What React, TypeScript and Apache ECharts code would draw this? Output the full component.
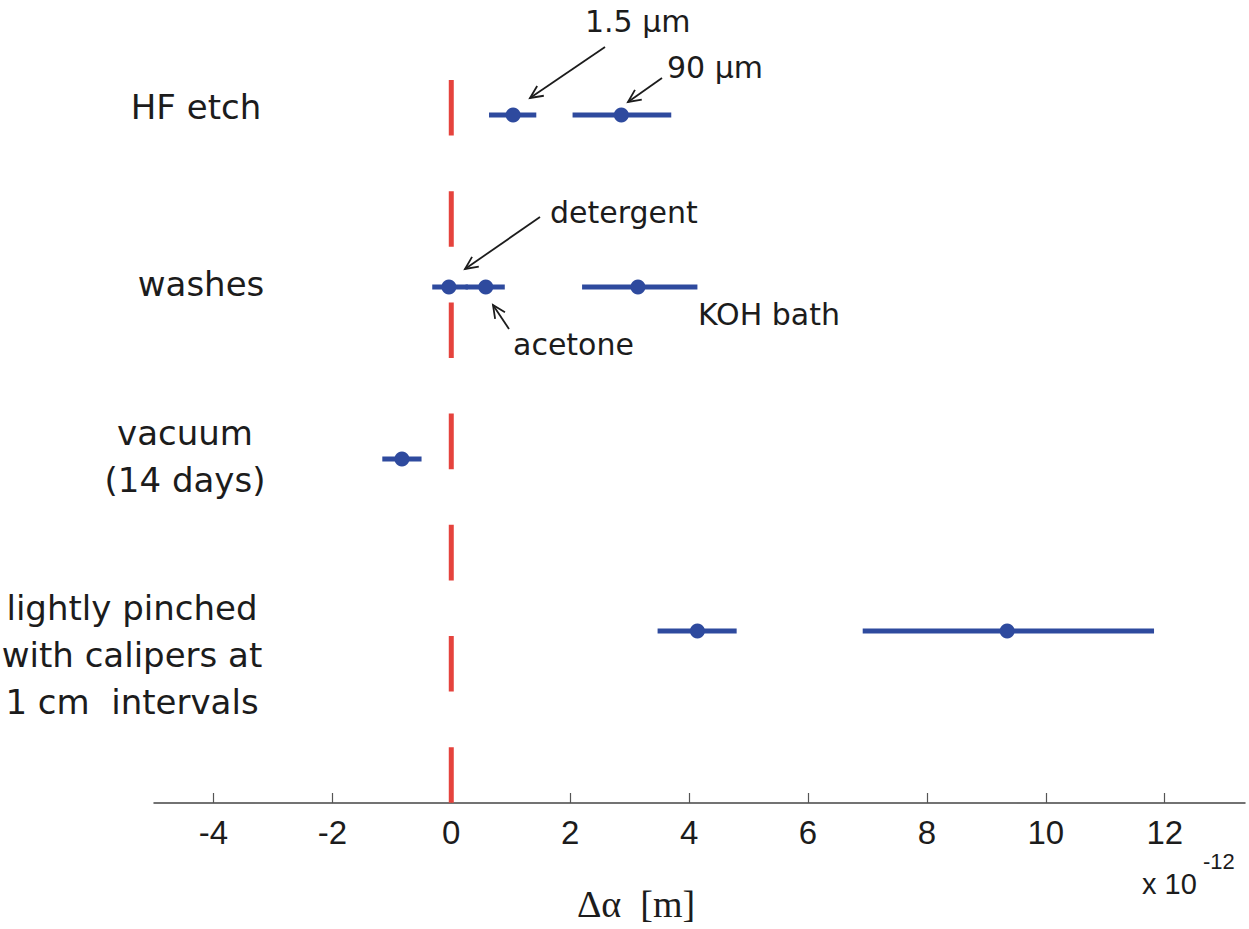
import React, { useEffect, useRef } from "react";
import * as echarts from "echarts";

// ---- data ----
const categories = [
  "HF etch",
  "washes",
  "vacuum\n(14 days)",
  "lightly pinched\nwith calipers at\n1 cm  intervals",
];
const categoryRow = [4, 3, 2, 1];

const pointNames = ["1.5 µm", "90 µm", "detergent", "acetone", "KOH bath", "vacuum", "pinched A", "pinched B"];
const pointRow = [4, 4, 3, 3, 3, 2, 1, 1];
const pointValue = [1.04, 2.86, -0.04, 0.58, 3.14, -0.83, 4.14, 9.35];
const errLow = [0.635, 2.04, -0.32, 0.24, 2.2, -1.16, 3.47, 6.92];
const errHigh = [1.43, 3.7, 0.28, 0.9, 4.14, -0.5, 4.8, 11.82];

const xTicks = [-4, -2, 0, 2, 4, 6, 8, 10, 12];
const zeroLine = [
  [0, 4.2035],
  [0, 0],
];

const BLUE = "#2E4A9E";
const RED = "#E5433D";
const INK = "#1c1c1c";
const SANS = "DejaVu Sans";

// annotation layout (pixel positions of callouts)
const annotations = [
  { text: "1.5 µm", x: 585, y: 21, from: [605, 47], to: [530, 98] },
  { text: "90 µm", x: 667, y: 67, from: [662, 78], to: [628, 102] },
  { text: "detergent", x: 550, y: 212, from: [540, 217], to: [465, 269] },
  { text: "acetone", x: 513, y: 344, from: [509, 329], to: [493, 305] },
  { text: "KOH bath", x: 698, y: 314, from: null, to: null },
];
const categoryLabelPos = [
  { x: 196, y: 107 },
  { x: 201, y: 284 },
  { x: 185, y: 456 },
  { x: 132, y: 655 },
];

function arrow(from: number[], to: number[]) {
  const dx = to[0] - from[0];
  const dy = to[1] - from[1];
  const len = Math.hypot(dx, dy);
  const ux = dx / len;
  const uy = dy / len;
  const L = 14;
  const a = (25 * Math.PI) / 180;
  const rot = (ang: number) => [
    to[0] - L * (ux * Math.cos(ang) - uy * Math.sin(ang)),
    to[1] - L * (ux * Math.sin(ang) + uy * Math.cos(ang)),
  ];
  return [
    {
      type: "line",
      shape: { x1: from[0], y1: from[1], x2: to[0], y2: to[1] },
      style: { stroke: INK, lineWidth: 1.8 },
    },
    {
      type: "polyline",
      shape: { points: [rot(a), to, rot(-a)] },
      style: { stroke: INK, lineWidth: 1.8, fill: null },
    },
  ];
}

export default function App() {
  const ref = useRef<HTMLDivElement>(null);
  useEffect(() => {
    if (!ref.current) return;
    const chart = echarts.init(ref.current, null, { renderer: "svg" });

    const graphics: any[] = [];
    categories.forEach((c, i) => {
      graphics.push({
        type: "text",
        x: categoryLabelPos[i].x,
        y: categoryLabelPos[i].y,
        style: {
          text: c,
          fontSize: 34,
          fontFamily: SANS,
          fill: INK,
          align: "center",
          verticalAlign: "middle",
          lineHeight: 47,
        },
      });
    });
    annotations.forEach((a) => {
      graphics.push({
        type: "text",
        x: a.x,
        y: a.y,
        style: {
          text: a.text,
          fontSize: 30,
          fontFamily: SANS,
          fill: INK,
          align: "left",
          verticalAlign: "middle",
        },
      });
      if (a.from && a.to) graphics.push(...arrow(a.from, a.to));
    });
    graphics.push({
      type: "text",
      x: 636,
      y: 904,
      style: {
        text: "Δα  [m]",
        fontSize: 38,
        fontFamily: "Liberation Serif",
        fill: INK,
        align: "center",
        verticalAlign: "middle",
      },
    });
    graphics.push({
      type: "text",
      x: 1142,
      y: 884,
      style: { text: "x 10", fontSize: 29, fontFamily: "Liberation Sans", fill: INK, align: "left", verticalAlign: "middle" },
    });
    graphics.push({
      type: "text",
      x: 1203,
      y: 861,
      style: { text: "-12", fontSize: 22, fontFamily: "Liberation Sans", fill: INK, align: "left", verticalAlign: "middle" },
    });

    chart.setOption({
      animation: false,
      backgroundColor: "#ffffff",
      grid: { left: 154, right: 4, top: 29, bottom: 126, containLabel: false },
      xAxis: {
        type: "value",
        min: -5,
        max: 13.35,
        splitLine: { show: false },
        axisLine: { show: true, onZero: false, lineStyle: { color: "#444", width: 1.5 } },
        axisTick: { show: true, inside: true, length: 10, customValues: xTicks, lineStyle: { color: "#555", width: 1.2 } },
        axisLabel: {
          customValues: xTicks,
          fontSize: 33,
          fontFamily: "Liberation Sans",
          color: INK,
          margin: 13,
        },
      },
      yAxis: {
        type: "value",
        min: 0,
        max: 4.5,
        show: false,
      },
      series: [
        {
          type: "line",
          data: zeroLine,
          symbol: "none",
          lineStyle: { color: RED, width: 5, type: [55.6, 55.6], cap: "butt" },
          z: 1,
        },
        {
          type: "custom",
          data: pointRow.map((r, i) => [errLow[i], errHigh[i], r]),
          renderItem: (params: any, api: any) => {
            const p1 = api.coord([api.value(0), api.value(2)]);
            const p2 = api.coord([api.value(1), api.value(2)]);
            return {
              type: "line",
              shape: { x1: p1[0], y1: p1[1], x2: p2[0], y2: p2[1] },
              style: { stroke: BLUE, lineWidth: 5 },
            };
          },
          z: 2,
        },
        {
          type: "scatter",
          data: pointRow.map((r, i) => ({ name: pointNames[i], value: [pointValue[i], r] })),
          symbol: "circle",
          symbolSize: 15,
          itemStyle: { color: BLUE, opacity: 1 },
          z: 3,
        },
      ],
      graphic: graphics,
    });
    return () => chart.dispose();
  }, []);
  return (
    <div
      ref={ref}
      style={{ position: "absolute", left: 0, top: 0, width: 1249, height: 929, background: "#fff" }}
    />
  );
}
